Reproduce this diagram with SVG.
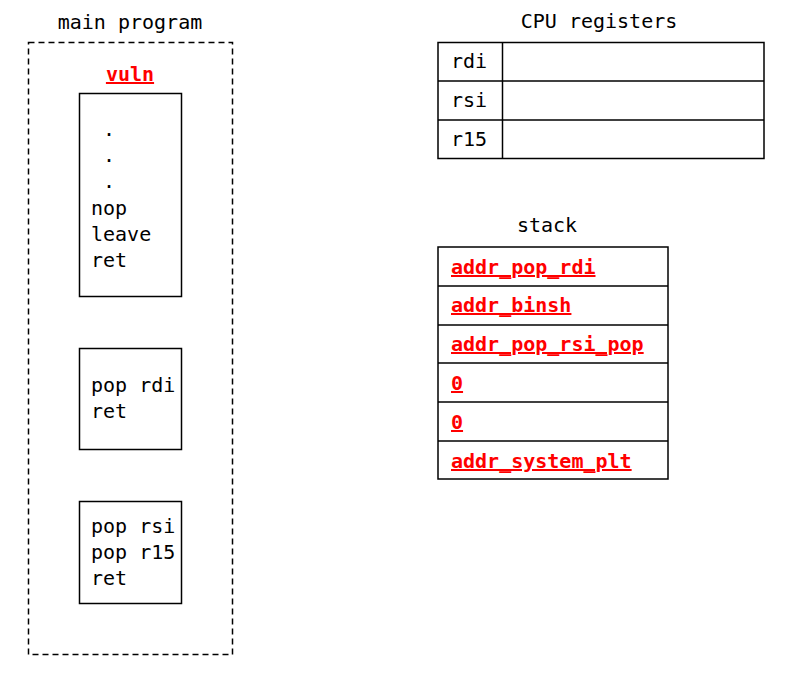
<svg xmlns="http://www.w3.org/2000/svg" width="800" height="684" viewBox="0 0 800 684">
<style>
text{font-family:"DejaVu Sans Mono","Liberation Mono",monospace;font-size:20px;fill:#000}
.r{fill:#ff0000;font-weight:bold;text-decoration:underline}
.b{fill:#fff;stroke:#000;stroke-width:1.5}
.l{stroke:#000;stroke-width:1.5}
</style>
<rect width="800" height="684" fill="#fff"/>
<g id="main">
<text x="130" y="29" text-anchor="middle">main program</text>
<rect x="28.5" y="42.5" width="204" height="612" fill="none" stroke="#000" stroke-width="1.5" stroke-dasharray="6,4"/>
<text class="r" x="130" y="81" text-anchor="middle">vuln</text>
</g>
<g id="vuln">
<rect class="b" x="79.5" y="93.5" width="102" height="203"/>
<text x="103" y="136">.</text>
<text x="103" y="162">.</text>
<text x="103" y="188">.</text>
<text x="91" y="215">nop</text>
<text x="91" y="241">leave</text>
<text x="91" y="267">ret</text>
</g>
<g id="gadget1">
<rect class="b" x="79.5" y="348.5" width="102" height="101"/>
<text x="91" y="392">pop rdi</text>
<text x="91" y="418">ret</text>
</g>
<g id="gadget2">
<rect class="b" x="79.5" y="501.5" width="102" height="102"/>
<text x="91" y="533">pop rsi</text>
<text x="91" y="559">pop r15</text>
<text x="91" y="585">ret</text>
</g>
<g id="registers">
<text x="599" y="28" text-anchor="middle">CPU registers</text>
<rect class="b" x="438" y="42.5" width="326" height="116"/>
<line class="l" x1="438" y1="81" x2="764" y2="81"/>
<line class="l" x1="438" y1="120" x2="764" y2="120"/>
<line class="l" x1="502.5" y1="42.5" x2="502.5" y2="158.5"/>
<text x="451" y="68">rdi</text>
<text x="451" y="107">rsi</text>
<text x="451" y="146">r15</text>
</g>
<g id="stack">
<text x="547" y="232" text-anchor="middle">stack</text>
<rect class="b" x="438" y="247" width="230" height="232"/>
<line class="l" x1="438" y1="286" x2="668" y2="286"/>
<line class="l" x1="438" y1="325" x2="668" y2="325"/>
<line class="l" x1="438" y1="363" x2="668" y2="363"/>
<line class="l" x1="438" y1="402" x2="668" y2="402"/>
<line class="l" x1="438" y1="441" x2="668" y2="441"/>
<text class="r" x="451" y="274">addr_pop_rdi</text>
<text class="r" x="451" y="312">addr_binsh</text>
<text class="r" x="451" y="351">addr_pop_rsi_pop</text>
<text class="r" x="451" y="390">0</text>
<text class="r" x="451" y="429">0</text>
<text class="r" x="451" y="468">addr_system_plt</text>
</g>
<g id="connectors"></g>
</svg>
